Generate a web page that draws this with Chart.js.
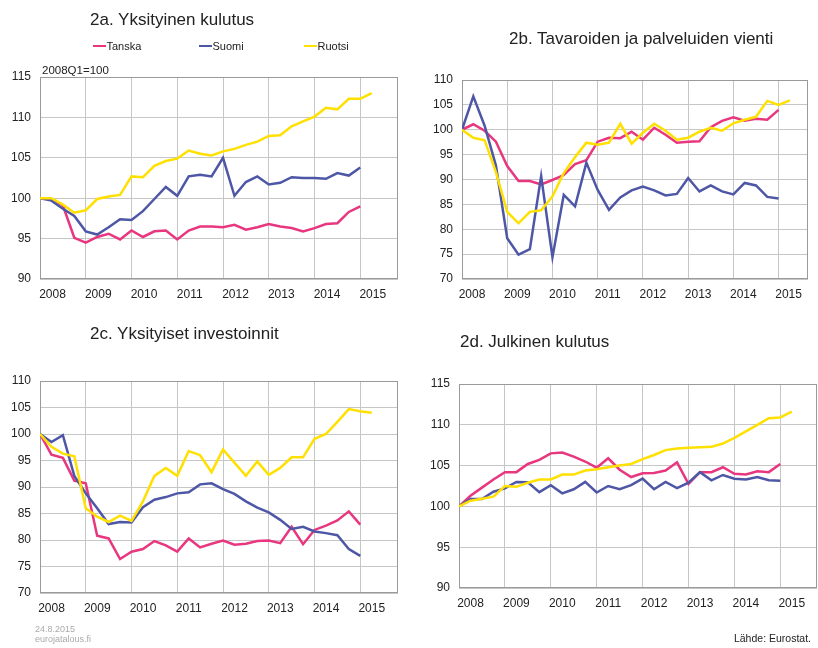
<!DOCTYPE html>
<html>
<head>
<meta charset="utf-8">
<script src="https://cdn.jsdelivr.net/npm/chart.js@4/dist/chart.umd.min.js"></script>
<style>
body { margin: 0; background: #fff; }
#page { position: relative; width: 818px; height: 648px; overflow: hidden; font-family: "Liberation Sans", Arial, sans-serif; color: #222; }
#page canvas { position: absolute; }
.t { position: absolute; white-space: nowrap; line-height: 1; }
.title { font-size: 17px; }
.leg { font-size: 11px; }
.leg i { position: absolute; top: 4px; height: 2.5px; width: 13px; }
.foot { font-size: 9px; color: #aaa; }
</style>
</head>
<body>
<div id="page">
  <canvas id="ca" width="409" height="310" style="left:0;top:0"></canvas>
  <canvas id="cb" width="409" height="310" style="left:409px;top:0"></canvas>
  <canvas id="cc" width="409" height="338" style="left:0;top:310px"></canvas>
  <canvas id="cd" width="409" height="338" style="left:409px;top:310px"></canvas>

  <div class="t title" style="left:90px;top:10.6px">2a. Yksityinen kulutus</div>
  <div class="t title" style="left:509px;top:30px">2b. Tavaroiden ja palveluiden vienti</div>
  <div class="t title" style="left:90px;top:325px">2c. Yksityiset investoinnit</div>
  <div class="t title" style="left:460px;top:332.5px">2d. Julkinen kulutus</div>

  <div id="legend"></div>
  <div class="t" style="left:42px;top:65.3px;font-size:11.5px">2008Q1=100</div>

  <div class="t foot" style="left:35px;top:624.7px">24.8.2015</div>
  <div class="t foot" style="left:35px;top:634.7px">eurojatalous.fi</div>
  <div class="t" style="right:7px;top:633.4px;font-size:10.5px">Lähde: Eurostat.</div>
</div>
<script>
// vuodet ja sarjat
const years = ['2008', '2009', '2010', '2011', '2012', '2013', '2014', '2015'];
const names = ['Tanska', 'Suomi', 'Ruotsi'];
const colors = ['#e8367f', '#4e57a6', '#ffe000'];

// 2a. Yksityinen kulutus (2008Q1=100)
const aTanska = [100, 99.9, 99.1, 95.1, 94.5, 95.2, 95.6, 94.9, 96.0, 95.2, 95.9, 96.0, 94.9, 96.0, 96.5, 96.5, 96.4, 96.7, 96.1, 96.4, 96.8, 96.5, 96.3, 95.9, 96.3, 96.8, 96.9, 98.3, 99.0];
const aSuomi = [100, 99.7, 98.7, 97.8, 95.9, 95.5, 96.4, 97.4, 97.3, 98.4, 99.9, 101.4, 100.3, 102.7, 102.9, 102.7, 105.0, 100.3, 102.0, 102.7, 101.7, 101.9, 102.6, 102.5, 102.5, 102.4, 103.1, 102.8, 103.8];
const aRuotsi = [100, 100, 99.2, 98.2, 98.5, 99.9, 100.2, 100.4, 102.7, 102.6, 104.0, 104.6, 104.9, 105.9, 105.5, 105.3, 105.8, 106.1, 106.6, 107.0, 107.7, 107.8, 108.9, 109.5, 110.1, 111.2, 111.0, 112.3, 112.3, 113.0];

// 2b. Tavaroiden ja palveluiden vienti
const bTanska = [100, 101.1, 99.8, 97.6, 92.7, 89.7, 89.7, 89.0, 89.9, 90.9, 93.1, 93.9, 97.6, 98.4, 98.3, 99.6, 98.0, 100.4, 99.0, 97.4, 97.6, 97.7, 100.5, 101.8, 102.5, 101.8, 102.2, 102.0, 104.0];
const bSuomi = [100, 106.7, 100.8, 92.8, 78.2, 74.9, 76.0, 90.7, 74.4, 86.9, 84.6, 93.4, 87.9, 83.9, 86.4, 87.8, 88.6, 87.8, 86.8, 87.1, 90.3, 87.6, 88.8, 87.6, 87.0, 89.3, 88.8, 86.5, 86.2];
const bRuotsi = [100, 98.4, 97.9, 91.5, 83.5, 81.2, 83.5, 83.8, 86.6, 91.3, 94.5, 97.4, 97.0, 97.4, 101.2, 97.2, 99.4, 101.2, 99.8, 98.0, 98.4, 99.6, 100.4, 99.8, 101.3, 102.0, 102.6, 105.8, 105.0, 105.9];

// 2c. Yksityiset investoinnit
const cTanska = [100, 96.1, 95.5, 91.2, 90.7, 80.8, 80.3, 76.4, 77.8, 78.3, 79.8, 79.0, 77.8, 80.3, 78.6, 79.3, 79.9, 79.1, 79.3, 79.8, 79.9, 79.4, 82.5, 79.2, 81.9, 82.7, 83.7, 85.4, 82.9];
const cSuomi = [100, 98.5, 99.8, 92.1, 88.8, 86.0, 83.0, 83.4, 83.3, 86.2, 87.6, 88.1, 88.8, 89.0, 90.5, 90.7, 89.6, 88.7, 87.3, 86.1, 85.2, 83.8, 82.1, 82.5, 81.6, 81.3, 80.9, 78.3, 77.0];
const cRuotsi = [100, 97.6, 96.3, 95.8, 86.0, 84.4, 83.4, 84.6, 83.6, 87.3, 92.1, 93.6, 92.1, 96.8, 96.0, 92.8, 97.1, 94.6, 92.1, 94.8, 92.3, 93.6, 95.6, 95.6, 99.1, 100.0, 102.3, 104.7, 104.3, 104.0];

// 2d. Julkinen kulutus
const dTanska = [100, 101.3, 102.3, 103.3, 104.2, 104.2, 105.2, 105.7, 106.5, 106.6, 106.1, 105.5, 104.75, 105.9, 104.5, 103.6, 104.05, 104.1, 104.4, 105.4, 102.75, 104.2, 104.2, 104.8, 104.0, 103.9, 104.3, 104.2, 105.2];
const dSuomi = [100, 100.9, 100.9, 101.8, 102.2, 103.0, 102.95, 101.75, 102.6, 101.6, 102.1, 103.0, 101.7, 102.5, 102.1, 102.6, 103.4, 102.1, 103.0, 102.25, 102.9, 104.2, 103.2, 103.85, 103.4, 103.3, 103.6, 103.2, 103.15];
const dRuotsi = [100, 100.7, 100.95, 101.2, 102.5, 102.4, 102.9, 103.3, 103.3, 103.9, 103.9, 104.4, 104.55, 104.8, 105.0, 105.2, 105.8, 106.3, 106.9, 107.1, 107.2, 107.25, 107.3, 107.7, 108.4, 109.2, 110.0, 110.8, 110.9, 111.6];

Chart.defaults.font.family = '"Liberation Sans", Arial, sans-serif';

// kehys kuvaajan ympärille
const frame = {
  id: 'frame',
  beforeDatasetsDraw(chart) {
    const a = chart.chartArea;
    const c = chart.ctx;
    c.save();
    c.strokeStyle = '#9a9a9a';
    c.lineWidth = 1;
    c.strokeRect(Math.round(a.left) + 0.5, Math.round(a.top) + 0.5,
      Math.round(a.right) - Math.round(a.left) - 1, Math.round(a.bottom) - Math.round(a.top) - 1);
    c.restore();
  }
};

function panel(id, values, o) {
  return new Chart(document.getElementById(id), {
    type: 'line',
    data: {
      datasets: names.map((n, k) => ({
        label: n,
        data: values[k].map((v, i) => ({ x: i, y: v })),
        borderColor: colors[k],
        borderWidth: 2.5,
        pointRadius: 0,
        tension: 0,
        fill: false,
        order: 2 - k
      }))
    },
    options: {
      responsive: false,
      animation: false,
      layout: { padding: o.pad },
      plugins: { legend: { display: false }, tooltip: { enabled: false } },
      scales: {
        x: {
          type: 'linear', min: 0, max: o.xMax,
          afterBuildTicks: s => { s.ticks = years.map((y, i) => ({ value: i * 4 })); },
          afterFit: s => { s.height = 25; },
          grid: { color: '#c6c6c6', drawTicks: false },
          border: { display: false },
          ticks: {
            autoSkip: false, maxRotation: 0, padding: 8,
            labelOffset: o.labelOffset, color: '#222', font: { size: 12 },
            callback: (v, i) => years[i]
          }
        },
        y: {
          min: o.yMin, max: o.yMax,
          afterFit: s => { s.width = o.yWidth; },
          grid: { color: '#c6c6c6', drawTicks: false },
          border: { display: false },
          ticks: { stepSize: 5, padding: 9, color: '#222', font: { size: 12 } }
        }
      }
    },
    plugins: [frame]
  });
}

panel('ca', [aTanska, aSuomi, aRuotsi], { yMin: 90, yMax: 115, xMax: 31.3, yWidth: 40, labelOffset: 12.5, pad: { left: 0, top: 77, right: 11, bottom: 6 } });
panel('cb', [bTanska, bSuomi, bRuotsi], { yMin: 70, yMax: 110, xMax: 30.6, yWidth: 53, labelOffset: 10, pad: { left: 0, top: 80, right: 10, bottom: 6 } });
panel('cc', [cTanska, cSuomi, cRuotsi], { yMin: 70, yMax: 110, xMax: 31.3, yWidth: 40, labelOffset: 11.5, pad: { left: 0, top: 71, right: 11, bottom: 30 } });
panel('cd', [dTanska, dSuomi, dRuotsi], { yMin: 90, yMax: 115, xMax: 31.2, yWidth: 50, labelOffset: 11.5, pad: { left: 0, top: 74, right: 1, bottom: 35 } });

// selite (vain 2a)
const legX = [93, 199, 304];
const leg = document.getElementById('legend');
names.forEach((n, k) => {
  const d = document.createElement('div');
  d.className = 't leg';
  d.style.left = legX[k] + 'px';
  d.style.top = '40.7px';
  d.innerHTML = '<i style="left:0;background:' + colors[k] + '"></i><span style="padding-left:13.5px">' + n + '</span>';
  leg.appendChild(d);
});
</script>
</body>
</html>
